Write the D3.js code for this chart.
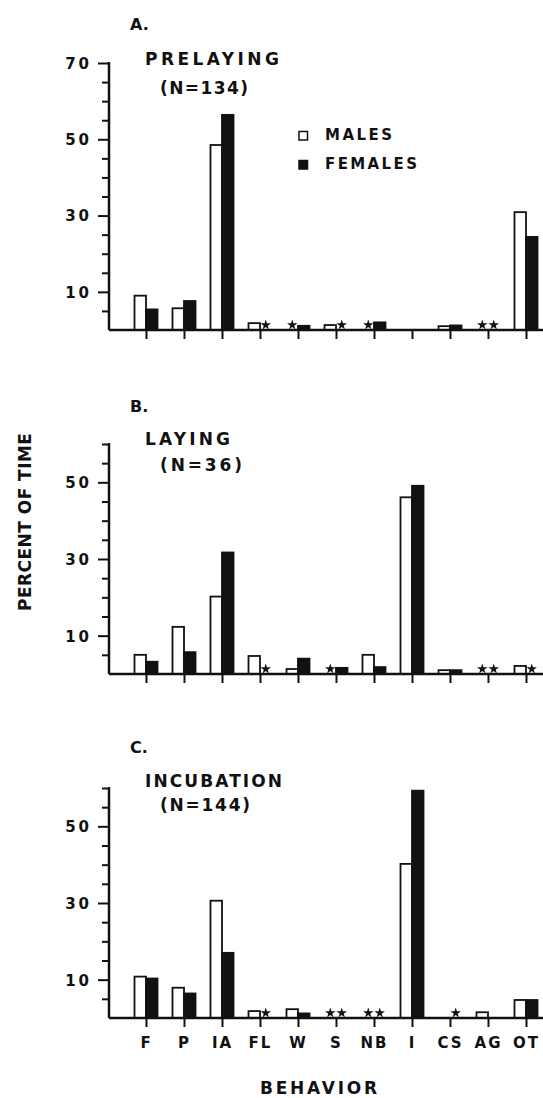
<!DOCTYPE html>
<html>
<head>
<meta charset="utf-8">
<script src="https://cdn.jsdelivr.net/npm/d3@7"></script>
<style>
  body { margin: 0; background: #fff; }
  text { font-family: "DejaVu Sans", sans-serif; font-weight: bold; fill: #111; }
</style>
</head>
<body>
<div id="chart"></div>
<script>
// behaviour codes along the x axis
var categories = ["F", "P", "IA", "FL", "W", "S", "NB", "I", "CS", "AG", "OT"];

// percent of time
var malesA   = [9.0, 5.7, 48.5, 1.8, 0, 1.3, 0, 0, 1.0, 0, 30.9];
var femalesA = [5.4, 7.6, 56.4, 0, 1.1, 0, 2.0, 0, 1.2, 0, 24.4];
var malesB   = [5.0, 12.3, 20.2, 4.7, 1.3, 0, 5.0, 46.1, 1.0, 0, 2.1];
var femalesB = [3.2, 5.7, 31.7, 0, 4.0, 1.6, 1.8, 49.1, 1.0, 0, 0];
var malesC   = [10.8, 7.9, 30.6, 1.8, 2.3, 0, 0, 40.2, 0, 1.5, 4.7];
var femalesC = [10.3, 6.4, 17.0, 0, 1.2, 0, 0, 59.3, 0, 0, 4.7];

// asterisks (trace amounts) per sex
var starsMaleA   = ["W", "NB", "AG"];
var starsFemaleA = ["FL", "S", "AG"];
var starsMaleB   = ["S", "AG"];
var starsFemaleB = ["FL", "AG", "OT"];
var starsMaleC   = ["S", "NB"];
var starsFemaleC = ["FL", "S", "NB", "CS"];

var letters = ["A.", "B.", "C."];
var phases = ["PRELAYING", "LAYING", "INCUBATION"];
var sampleSizes = ["(N=134)", "(N=36)", "(N=144)"];
var yMax = [70, 60, 60];
var yTickLabels = [10, 30, 50, 70];
var legendLabels = ["MALES", "FEMALES"];

var svgWidth = 543;
var svgHeight = 1098;

var svg = d3.select("#chart")
  .append("svg")
  .attr("width", svgWidth)
  .attr("height", svgHeight);

var axisX = 109;
var rightEdge = 543;
var barW = 11.5;

// baseline and top pixel of each panel
var panels = [
  { base: 330, top: 63,  males: malesA, females: femalesA, sm: starsMaleA, sf: starsFemaleA,
    letterY: 30, phaseY: 65, nY: 94, phaseLen: 134, nLen: 88 },
  { base: 674, top: 444, males: malesB, females: femalesB, sm: starsMaleB, sf: starsFemaleB,
    letterY: 412, phaseY: 445, nY: 471, phaseLen: 85, nLen: 82 },
  { base: 1018, top: 788, males: malesC, females: femalesC, sm: starsMaleC, sf: starsFemaleC,
    letterY: 753, phaseY: 787, nY: 811, phaseLen: 137, nLen: 90 }
];

var x = d3.scalePoint()
  .domain(categories)
  .range([146, 526]);

var star = d3.symbol().type(d3.symbolStar).size(34);

panels.forEach(function (p, i) {
  var y = d3.scaleLinear()
    .domain([0, yMax[i]])
    .range([p.base, p.top]);

  var g = svg.append("g");

  // y axis, long ticks at labelled values
  var leftAxis = d3.axisLeft(y)
    .tickValues(d3.range(5, yMax[i] + 1, 5))
    .tickSize(11)
    .tickPadding(6)
    .tickFormat(function (d) { return yTickLabels.indexOf(d) >= 0 ? d : ""; });

  var yAxis = g.append("g")
    .attr("transform", `translate(${axisX},0)`)
    .call(leftAxis);
  yAxis.select(".domain").remove();
  yAxis.selectAll("line")
    .attr("stroke", "#111")
    .attr("stroke-width", 2)
    .attr("x2", d => yTickLabels.indexOf(d) >= 0 ? -11 : -7);
  yAxis.selectAll("text")
    .style("font-size", "15px")
    .style("letter-spacing", "3px")
    .attr("dy", "0.36em");

  g.append("line")
    .attr("x1", axisX).attr("x2", axisX)
    .attr("y1", y(yMax[i]) - 1).attr("y2", p.base)
    .attr("stroke", "#111").attr("stroke-width", 2.5);

  // x axis
  var bottomAxis = d3.axisBottom(x)
    .tickSize(9)
    .tickPadding(10)
    .tickFormat(i === 2 ? null : "");
  var xAxis = g.append("g")
    .attr("transform", `translate(0,${p.base})`)
    .call(bottomAxis);
  xAxis.select(".domain").remove();
  xAxis.selectAll("line").attr("stroke", "#111").attr("stroke-width", 2);
  xAxis.selectAll("text")
    .style("font-size", "15px")
    .style("letter-spacing", "2px");

  // bars: open = males (left of tick), filled = females (right of tick)
  categories.forEach(function (c, j) {
    if (p.males[j] > 0) {
      g.append("rect")
        .attr("x", x(c) - barW)
        .attr("y", y(p.males[j]))
        .attr("width", barW)
        .attr("height", p.base - y(p.males[j]))
        .attr("fill", "#fff")
        .attr("stroke", "#111")
        .attr("stroke-width", 1.8);
    }
    if (p.females[j] > 0) {
      g.append("rect")
        .attr("x", x(c))
        .attr("y", y(p.females[j]))
        .attr("width", barW)
        .attr("height", p.base - y(p.females[j]))
        .attr("fill", "#111")
        .attr("stroke", "#111")
        .attr("stroke-width", 1.8);
    }
  });

  // stars for trace values
  g.selectAll(".sm")
    .data(p.sm)
    .enter()
    .append("path")
    .attr("d", star)
    .attr("transform", d => `translate(${x(d) - barW / 2},${p.base - 5})`)
    .attr("fill", "#111");
  g.selectAll(".sf")
    .data(p.sf)
    .enter()
    .append("path")
    .attr("d", star)
    .attr("transform", d => `translate(${x(d) + barW / 2},${p.base - 5})`)
    .attr("fill", "#111");

  // baseline drawn last so it sits over bar bottoms
  g.append("line")
    .attr("x1", axisX).attr("x2", rightEdge)
    .attr("y1", p.base).attr("y2", p.base)
    .attr("stroke", "#111").attr("stroke-width", 2.5);

  // panel titles
  g.append("text")
    .attr("x", 130).attr("y", p.letterY)
    .style("font-size", "16px")
    .text(letters[i]);
  g.append("text")
    .attr("x", 145).attr("y", p.phaseY)
    .attr("textLength", p.phaseLen)
    .attr("lengthAdjust", "spacing")
    .style("font-size", "17px")
    .text(phases[i]);
  g.append("text")
    .attr("x", 160).attr("y", p.nY)
    .attr("textLength", p.nLen)
    .attr("lengthAdjust", "spacing")
    .style("font-size", "17px")
    .text(sampleSizes[i]);
});

// legend
var legend = svg.append("g");
legendLabels.forEach(function (lab, k) {
  var ly = 140 + k * 29;
  legend.append("rect")
    .attr("x", 299).attr("y", ly - 8.5)
    .attr("width", 8.5).attr("height", 8.5)
    .attr("fill", k === 0 ? "#fff" : "#111")
    .attr("stroke", "#111").attr("stroke-width", 1.5);
  legend.append("text")
    .attr("x", 325).attr("y", ly)
    .attr("textLength", k === 0 ? 67 : 92)
    .attr("lengthAdjust", "spacing")
    .style("font-size", "15px")
    .text(lab);
});

// axis titles
svg.append("text")
  .attr("transform", "translate(31,522) rotate(-90)")
  .attr("text-anchor", "middle")
  .attr("textLength", 178)
  .attr("lengthAdjust", "spacing")
  .style("font-size", "17px")
  .text("PERCENT OF TIME");

svg.append("text")
  .attr("x", 260).attr("y", 1094)
  .attr("textLength", 117)
  .attr("lengthAdjust", "spacing")
  .style("font-size", "17px")
  .text("BEHAVIOR");
</script>
</body>
</html>
